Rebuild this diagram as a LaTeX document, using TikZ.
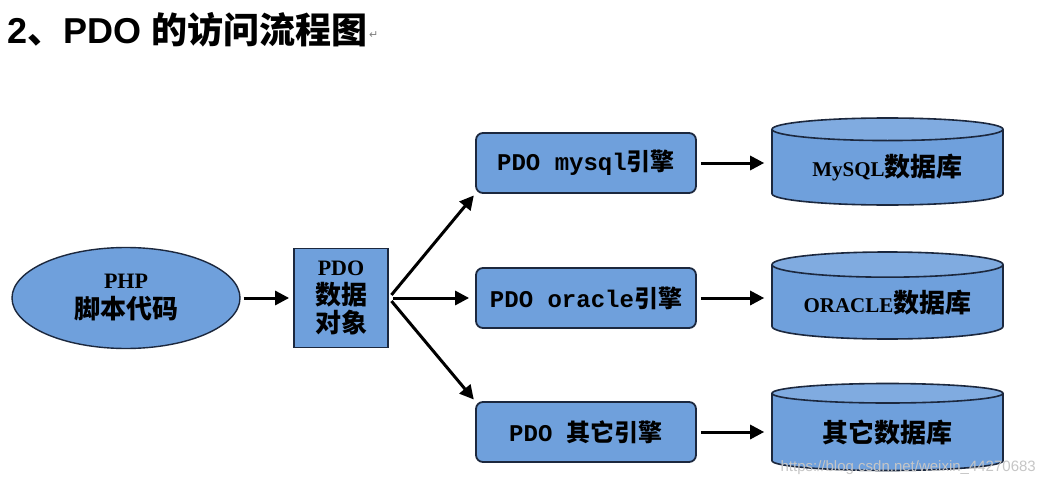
\documentclass[tikz,border=0pt]{standalone}
\usepackage{fontspec}
\setmainfont{Liberation Serif}
\newfontfamily\cjk{Noto Sans CJK SC}
\newfontfamily\monob{Liberation Mono}
\newfontfamily\sansb{Liberation Sans}
\newfontfamily\symb{DejaVu Sans}
\usetikzlibrary{shapes.geometric,arrows.meta,positioning}

\definecolor{boxblue}{RGB}{111,160,220}
\definecolor{boxline}{RGB}{28,40,62}

\tikzset{
  flow/.style={-{Triangle[length=14pt,width=14pt]}, line width=3pt, black},
  codebox/.style={ellipse, draw=boxline, line width=1.4pt, fill=boxblue, minimum width=228, minimum height=101, inner sep=0pt, align=center,
    font=\fontsize{26}{30}\selectfont\bfseries},
  pdobox/.style={rectangle, draw=boxline, line width=1.8pt, fill=boxblue, minimum width=94, minimum height=99, inner sep=0pt, align=center,
    font=\fontsize{26}{28.5}\selectfont\bfseries},
  engine/.style={rectangle, draw=boxline, line width=1.8pt, fill=boxblue, rounded corners=7pt, minimum width=220, minimum height=60, inner sep=0pt,
    font=\fontsize{24}{28}\selectfont\bfseries},
  database/.style={cylinder, shape border rotate=90, aspect=0.15, draw=boxline, line width=1.6pt,
    cylinder uses custom fill, cylinder body fill=boxblue, cylinder end fill=boxblue!88!white,
    minimum width=231, minimum height=87, inner sep=0pt, anchor=shape center,
    font=\fontsize{26}{28}\selectfont\bfseries},
}

\begin{document}
\begin{tikzpicture}[x=1pt,y=-1pt]
  \path[use as bounding box, fill=white] (0,0) rectangle (1042,487);

  % title
  \node[anchor=base west, inner sep=0pt] (title) at (7,44)
    {\fontsize{36}{40}\selectfont{\sansb\bfseries 2}{\cjk\bfseries 、}{\sansb\bfseries PDO }{\cjk\bfseries 的访问流程图}};
  \node[anchor=west, inner sep=0pt, text=gray] (mark) at (369,35) {\symb\fontsize{11}{12}\selectfont ↵};

  % left part
  \node[codebox] (php) at (126,298)
    {{\fontsize{22}{30}\selectfont PHP}\\{\cjk 脚本代码}};
  \node[pdobox] (pdo) at (341,298)
    {{\fontsize{22}{28.5}\selectfont PDO}\\{\cjk 数据}\\{\cjk 对象}};

  % engines
  \node[engine] (eng1) at (586,163) {{\monob PDO mysql}{\cjk 引擎}};
  \node[engine] (eng2) at (586,298) {{\monob PDO oracle}{\cjk 引擎}};
  \node[engine] (eng3) at (586,432) {{\monob PDO }{\cjk 其它引擎}};

  % databases
  \node[database] (db1) at (887.5,161.5) {{\fontsize{21}{26}\selectfont MySQL}{\cjk 数据库}};
  \node[database] (db2) at (887.5,295.5) {{\fontsize{21}{26}\selectfont ORACLE}{\cjk 数据库}};
  \node[database] (db3) at (887.5,427) {{\cjk 其它数据库}};

  % arrows
  \draw[flow, shorten <=3pt, shorten >=4pt] (php) -- (pdo);
  \draw[flow, shorten <=4pt, shorten >=2pt] (pdo.east) -- (eng1.south west);
  \draw[flow, shorten <=4pt, shorten >=6pt] (pdo.east) -- (eng2.west);
  \draw[flow, shorten <=4pt, shorten >=2pt] (pdo.east) -- (eng3.north west);
  \draw[flow, shorten <=4pt, shorten >=7pt] (eng1.east) -- (eng1.east -| db1.west);
  \draw[flow, shorten <=4pt, shorten >=7pt] (eng2.east) -- (eng2.east -| db2.west);
  \draw[flow, shorten <=4pt, shorten >=7pt] (eng3.east) -- (eng3.east -| db3.west);

  % watermark
  \node[anchor=east, inner sep=0pt, text=gray!45] (wm) at (1036,468)
    {\sansb\fontsize{15}{18}\selectfont https://blog.csdn.net/weixin\_44270683};
\end{tikzpicture}
\end{document}
